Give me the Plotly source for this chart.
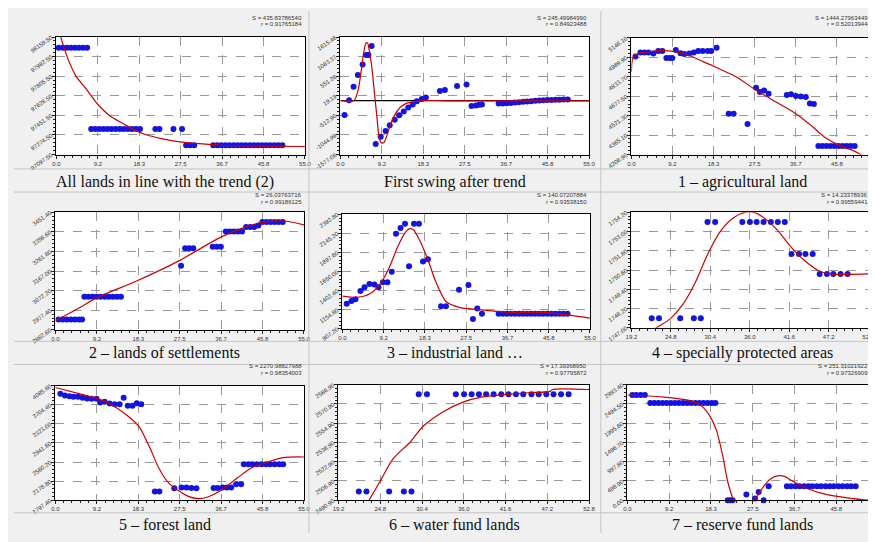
import plotly.graph_objects as go

W, H = 876, 542

# ---------------- tick labels ----------------
x_ticks_a = [0.0, 9.1667, 18.3333, 27.5, 36.6667, 45.8333, 55.0]
x_labels_a = ["0.0", "9.2", "18.3", "27.5", "36.7", "45.8", "55.0"]
x_ticks_b = [19.2, 24.8, 30.4, 36.0, 41.6, 47.2, 52.8]
x_labels_b = ["19.2", "24.8", "30.4", "36.0", "41.6", "47.2", "52.8"]

p1_yticks = [97097.5, 97274.5, 97451.5, 97628.5, 97805.5, 97982.5, 98159.5]
p2_yticks = [-1577.08, -1044.99, -512.90, 19.19, 551.28, 1083.37, 1615.46]
p3_yticks = [4208.9, 4365.1, 4521.3, 4677.5, 4833.7, 4989.9, 5146.1]
p4_yticks = [2882.6, 2977.4, 3072.2, 3167.0, 3261.8, 3356.6, 3451.4]
p5_yticks = [907.2, 1154.8, 1402.4, 1650.0, 1897.6, 2145.2, 2392.8]
p6_yticks = [1747.0, 1748.2, 1749.4, 1750.6, 1751.8, 1753.0, 1754.2]
p7_yticks = [1797.4, 2178.8, 2560.2, 2941.6, 3323.0, 3704.4, 4085.8]
p8_yticks = [2490.9, 2506.9, 2522.9, 2538.9, 2554.9, 2570.9, 2586.9]
p9_yticks = [0.0, 498.9, 997.8, 1496.7, 1995.6, 2494.5, 2993.4]

# ---------------- captions / stats ----------------
captions = ["All lands in line with the trend (2)", "First swing after trend", "1 \u2013 agricultural land",
            "2 \u2013 lands of settlements", "3 \u2013 industrial land \u2026", "4 \u2013 specially protected areas",
            "5 \u2013 forest land", "6 \u2013 water fund lands", "7 \u2013 reserve fund lands"]
s_values = ["435.83786540", "245.49984990", "1444.27963449", "26.03763716", "140.07207884",
            "14.23378936", "2270.98827988", "17.39368950", "251.31021922"]
r_values = ["0.91765184", "0.84923488", "0.52013944", "0.99186125", "0.93538150",
            "0.99559441", "0.98354003", "0.97795872", "0.97326909"]

# ---------------- panel 1 ----------------
p1_x = [0.5, 1.4, 2.3, 3.2, 4.1, 5.0, 5.9, 6.8,
        7.7, 8.6, 9.5, 10.4, 11.3, 12.2, 13.1, 14.0, 14.9, 15.8, 16.7, 17.6, 18.5,
        21.9, 22.8, 25.9, 27.8,
        28.7, 29.6, 30.5,
        34.7, 35.6, 36.5, 37.4, 38.3, 39.2, 40.1, 41.0, 41.9, 42.8, 43.7, 44.6, 45.5, 46.4, 47.3, 48.2, 49.1, 50.0]
p1_y = [98063, 98063, 98063, 98063, 98063, 98063, 98063, 98063,
        97327, 97327, 97327, 97327, 97327, 97327, 97327, 97327, 97327, 97327, 97327, 97327, 97327,
        97327, 97327, 97327, 97327,
        97181, 97181, 97181,
        97181, 97181, 97181, 97181, 97181, 97181, 97181, 97181, 97181, 97181, 97181, 97181, 97181, 97181, 97181, 97181, 97181, 97181]
p1_tx = [0.3, 0.95, 2.55, 4.4, 6.5, 9.1, 11.8, 14.6, 17.2, 19.7, 23.0, 27.3, 31.5, 36.4, 45.0, 55.0]
p1_ty = [98240, 98160, 97962, 97801, 97695, 97554, 97448, 97380, 97320, 97278, 97243, 97211, 97195, 97181, 97173, 97170]

# ---------------- panel 2 ----------------
p2_x = [0.9, 1.9, 2.9, 3.85, 4.9, 5.7, 6.2, 6.9, 7.8, 8.9, 10.0, 10.9, 12.0, 13.0, 14.0, 15.0, 16.0, 16.9,
        18.0, 18.9, 22.0, 23.1, 25.8, 27.9, 29.0, 30.0, 30.7, 31.3,
        35.0, 35.9, 36.8, 37.7, 38.6, 39.5, 40.4, 41.3, 42.2, 43.1, 44.0, 44.9, 45.8, 46.7, 47.6, 48.5, 49.4, 50.3]
p2_y = [-504, -103, 263, 586, 865, 1127, 1127, 1371, -1289, -1097, -940, -783, -635, -513, -408, -303, -216, -129,
        -68, -25, 150, 176, 281, 325, -260, -243, -225, -216,
        -190, -190, -183, -175, -165, -155, -147, -140, -130, -120, -112, -103, -95, -94, -90, -88, -86, -86]
p2_tx = [0.0, 2.98, 3.85, 4.57, 5.15, 5.66, 6.02, 6.39, 6.97, 7.47, 8.06, 8.56, 9.07, 9.65, 10.7, 11.8, 13.3,
         14.7, 16.2, 18.4, 25.0, 55.0]
p2_ty = [-112, -112, 150, 673, 1196, 1458, 1441, 1240, 760, 150, -548, -1115, -1263, -1245, -897, -548, -286,
         -181, -147, -112, -118, -120]
p2_base = -112

# ---------------- panel 3 ----------------
p3_x = [0.9, 2.0, 2.9, 3.8, 4.9, 6.0, 6.9, 7.8, 8.55, 9.1, 9.9, 10.96, 11.8, 12.9, 13.9, 14.9, 15.9, 17.0, 17.8,
        19.0, 21.7, 22.8, 25.9, 27.8, 28.65, 29.6, 30.6, 34.65, 35.6, 36.7, 37.8, 38.9, 39.8, 40.7,
        41.7, 42.6, 43.5, 44.4, 45.3, 46.2, 47.1, 48.0, 48.9, 49.8]
p3_y = [4998, 5030, 5030, 5030, 5022, 5042, 5042, 4986, 4986, 4986, 5050, 5024, 5017, 5022, 5030, 5042, 5042, 5042, 5042,
        5068, 4537, 4537, 4455, 4745, 4711, 4724, 4698, 4688, 4693, 4680, 4675, 4672, 4620, 4615,
        4278, 4278, 4278, 4278, 4278, 4278, 4278, 4278, 4278, 4278]
p3_tx = [0.0, 0.29, 1.24, 3.8, 6.73, 9.65, 12.57, 16.23, 18.27, 21.35, 23.54, 27.56, 31.58, 36.7, 40.35, 43.27,
         46.56, 49.85, 52.78]
p3_ty = [4874, 4978, 5017, 5035, 5045, 5037, 5011, 4952, 4921, 4869, 4830, 4732, 4646, 4537, 4434, 4343,
         4278, 4234, 4175]

# ---------------- panel 4 ----------------
p4_x = [0.7, 1.6, 2.5, 3.4, 4.3, 5.2, 5.9,
        6.4, 7.3, 8.2, 9.1, 10.0, 10.9, 11.8, 12.7, 13.6, 14.5,
        27.8, 28.7, 29.6, 30.5, 34.8, 35.7, 36.6,
        37.7, 38.6, 39.5, 40.4, 41.3, 42.2, 43.1, 44.0, 44.9,
        45.8, 46.7, 47.6, 48.5, 49.4, 50.3]
p4_y = [2933, 2933, 2933, 2933, 2933, 2933, 2933,
        3043, 3043, 3043, 3043, 3043, 3043, 3043, 3043, 3043, 3043,
        3192, 3277, 3277, 3277, 3284, 3284, 3284,
        3359, 3359, 3359, 3359, 3359, 3380, 3380, 3380, 3388,
        3404, 3404, 3404, 3404, 3404, 3404]
p4_tx = [0.0, 5.4, 9.1, 18.1, 27.2, 36.6, 41.7, 46.1, 51.2, 55.0]
p4_ty = [2926, 2990, 3037, 3120, 3215, 3331, 3377, 3404, 3408, 3390]

# ---------------- panel 5 ----------------
p5_x = [0.95, 2.0, 2.9, 4.0, 4.9, 6.0, 7.1, 8.0, 9.0, 10.0, 10.96, 11.9, 12.9, 13.9, 14.8, 15.9, 17.0, 17.9, 19.0,
        21.9, 23.0, 25.9, 28.0, 29.0, 29.95, 31.0,
        34.7, 35.6, 36.5, 37.4, 38.3, 39.2, 40.1, 41.0, 41.9, 42.8, 43.7, 44.6, 45.5, 46.4, 47.3, 48.2, 49.1, 50.0]
p5_y = [1232, 1269, 1290, 1398, 1447, 1489, 1481, 1447, 1510, 1510, 1646, 2140, 2215, 2268, 1717, 2268, 2268, 1779, 1808,
        1199, 1199, 1414, 1476, 1033, 1169, 1103,
        1103, 1103, 1103, 1103, 1103, 1103, 1103, 1103, 1103, 1103, 1103, 1103, 1103, 1103, 1103, 1103, 1103, 1103]
p5_tx = [0.0, 3.3, 6.2, 8.4, 10.2, 12.4, 13.9, 14.8, 15.7, 17.2, 19.0, 20.8, 23.0, 25.9, 30.3, 36.9, 45.6, 55.0]
p5_ty = [1331, 1315, 1364, 1489, 1675, 1986, 2152, 2202, 2194, 2049, 1800, 1510, 1261, 1186, 1157, 1124, 1116, 1045]

# ---------------- panel 6 ----------------
p6_x = [22.08, 23.11, 26.13, 28.06, 29.05, 30.0, 31.08, 34.94, 36.02, 36.97, 37.96, 38.99, 39.98, 40.97,
        41.92, 42.99, 43.9, 44.93, 45.92, 46.95, 47.85, 48.89, 49.88]
p6_y = [1747.6, 1747.6, 1747.6, 1747.6, 1747.6, 1753.6, 1753.6, 1753.6, 1753.6, 1753.6, 1753.6, 1753.6, 1753.6, 1753.6,
        1751.6, 1751.6, 1751.6, 1751.6, 1750.36, 1750.36, 1750.36, 1750.36, 1750.36]
p6_tx = [22.44, 23.1, 24.7, 26.5, 28.3, 30.1, 31.9, 33.7, 35.5, 36.4, 37.7, 39.98, 41.8, 43.6, 45.8, 47.6, 52.9]
p6_ty = [1746.92, 1747.1, 1747.56, 1748.46, 1749.86, 1751.66, 1753.06, 1753.86, 1754.22, 1754.22, 1753.96,
         1753.06, 1752.06, 1751.26, 1750.56, 1750.36, 1750.36]

# ---------------- panel 7 ----------------
p7_x = [1.1, 2.1, 3.1, 4.0, 5.0, 6.0, 7.0, 8.0, 9.1, 9.9, 10.9, 12.0, 13.1, 14.2, 15.1, 16.0, 17.05, 18.0, 19.0,
        22.0, 23.0, 26.3, 27.9, 29.0, 30.1, 31.2, 35.0, 35.9, 37.0, 37.9, 38.9, 40.0, 41.1,
        41.7, 42.7, 43.6, 44.6, 45.6, 46.6, 47.5, 48.5, 49.5, 50.4]
p7_y = [3926, 3888, 3875, 3862, 3862, 3843, 3830, 3824, 3824, 3747, 3766, 3728, 3715, 3715, 3843, 3683, 3683, 3734, 3715,
        1971, 1971, 2035, 2054, 2054, 2041, 2035, 2041, 2041, 2054, 2054, 2054, 2118, 2118,
        2514, 2514, 2514, 2514, 2514, 2514, 2514, 2514, 2514, 2514]
p7_tx = [0.0, 5.4, 9.8, 13.4, 16.3, 18.5, 20.7, 22.9, 25.0, 27.2, 29.4, 31.6, 33.7, 36.6, 40.3, 43.2, 46.1, 50.4, 55.0]
p7_ty = [4048, 3920, 3811, 3651, 3460, 3268, 2885, 2438, 2150, 1990, 1875, 1831, 1862, 1990, 2246, 2438, 2533, 2648, 2661]

# ---------------- panel 8 ----------------
p8_x = [21.93, 22.95, 25.99, 27.97, 28.99, 29.96, 31.06, 34.94, 36.04, 37.06, 38.03, 39.0, 40.01, 41.03, 42.0,
        43.0, 43.98, 45.08, 46.05, 47.07, 48.04, 49.05, 50.06]
p8_y = [2498.1, 2498.1, 2498.1, 2498.1, 2498.1, 2578.9, 2578.9, 2578.9, 2578.9, 2578.9, 2578.9, 2578.9, 2578.9,
        2578.9, 2578.9, 2578.9, 2578.9, 2578.9, 2578.9, 2578.9, 2578.9, 2578.9, 2578.9]
p8_tx = [23.04, 24.8, 26.56, 28.77, 30.53, 33.2, 35.8, 38.5, 41.1, 44.6, 47.6, 47.9, 52.8]
p8_ty = [2488.2, 2506.9, 2525.6, 2538.9, 2552.2, 2564.2, 2572.2, 2576.8, 2578.4, 2580.2, 2581.3, 2582.9, 2582.9]

# ---------------- panel 9 ----------------
p9_x = [1.08, 1.95, 2.88, 3.82,
        5.0, 5.9, 6.8, 7.7, 8.6, 9.5, 10.4, 11.3, 12.2, 13.1, 14.0, 14.9, 15.8, 16.7, 17.6, 18.5, 19.3,
        22.0, 22.6, 23.1, 26.1, 28.0, 28.8, 29.9, 31.0,
        35.0, 35.9, 36.9, 37.8, 38.8, 39.7, 40.6, 41.6, 42.5, 43.5, 44.4, 45.3, 46.3, 47.2, 48.2, 49.1, 50.1]
p9_y = [2726, 2726, 2726, 2726,
        2517, 2517, 2517, 2517, 2517, 2517, 2517, 2517, 2517, 2517, 2517, 2517, 2517, 2517, 2517, 2517, 2517,
        0, 0, 0, 152, 43, 211, 0, 361,
        361, 361, 361, 361, 361, 361, 361, 361, 361, 361, 361, 361, 361, 361, 361, 361, 361]
p9_tx = [0.0, 7.6, 13.3, 16.2, 18.0, 19.5, 20.9, 22.0, 23.1, 23.4, 27.6, 28.5, 29.9, 31.4, 33.2, 34.6, 36.4,
         40.0, 43.6, 47.9, 53.0, 55.0]
p9_ty = [2726, 2676, 2592, 2450, 2200, 1823, 1155, 486, 68, 0, 0, 110, 361, 553, 637, 612, 486,
         277, 152, 69, 2, 0]

# ---------------- layout boxes (pixels: left, top, right, bottom) ----------------
boxes = [(43, 27, 295, 149), (331, 27, 583, 149), (626, 28, 876, 149),
         (42, 209, 294, 331), (333, 211, 584, 330), (626, 209, 866, 329),
         (42, 389, 294, 508), (329, 388, 583, 508), (622, 388, 876, 508)]

panels = [
    (p1_x, p1_y, p1_tx, p1_ty, p1_yticks, x_ticks_a, x_labels_a),
    (p2_x, p2_y, p2_tx, p2_ty, p2_yticks, x_ticks_a, x_labels_a),
    (p3_x, p3_y, p3_tx, p3_ty, p3_yticks, x_ticks_a, x_labels_a),
    (p4_x, p4_y, p4_tx, p4_ty, p4_yticks, x_ticks_a, x_labels_a),
    (p5_x, p5_y, p5_tx, p5_ty, p5_yticks, x_ticks_a, x_labels_a),
    (p6_x, p6_y, p6_tx, p6_ty, p6_yticks, x_ticks_b, x_labels_b),
    (p7_x, p7_y, p7_tx, p7_ty, p7_yticks, x_ticks_a, x_labels_a),
    (p8_x, p8_y, p8_tx, p8_ty, p8_yticks, x_ticks_b, x_labels_b),
    (p9_x, p9_y, p9_tx, p9_ty, p9_yticks, x_ticks_a, x_labels_a),
]

fig = go.Figure()
layout = dict(width=W, height=H, margin=dict(l=0, r=0, t=0, b=0),
              paper_bgcolor="#f0f0f0", plot_bgcolor="white", showlegend=False)

tick_font = dict(family="Liberation Sans", size=6, color="#333333")
shapes = []
annotations = []

for i, (px_, py_, tx_, ty_, yt, xt, xl) in enumerate(panels):
    n = i + 1
    xa = "x" if n == 1 else f"x{n}"
    ya = "y" if n == 1 else f"y{n}"
    l, t, r, b = boxes[i]
    ystep = yt[1] - yt[0]
    xstep = xt[1] - xt[0]
    layout["xaxis" if n == 1 else f"xaxis{n}"] = dict(
        domain=[l / W, r / W], anchor=ya, range=[xt[0], xt[-1]],
        tickmode="array", tickvals=xt, ticktext=xl, tickfont=tick_font,
        ticks="outside", ticklen=3, tickcolor="#222",
        showline=True, mirror=True, linecolor="black", linewidth=1,
        showgrid=True, gridcolor="#9a9a9a", griddash="dash", gridwidth=1,
        zeroline=False,
        minor=dict(tick0=xt[0], dtick=xstep / 5, ticks="outside", ticklen=2, tickcolor="#222", showgrid=False))
    layout["yaxis" if n == 1 else f"yaxis{n}"] = dict(
        domain=[1 - b / H, 1 - t / H], anchor=xa, range=[yt[0], yt[-1]],
        tickmode="array", tickvals=yt, ticktext=[f"{v:.2f}" for v in yt], tickfont=tick_font,
        tickangle=-35, ticks="outside", ticklen=3, tickcolor="#222",
        showline=True, mirror=True, linecolor="black", linewidth=1,
        showgrid=True, gridcolor="#9a9a9a", griddash="dash", gridwidth=1,
        zeroline=False,
        minor=dict(tick0=yt[0], dtick=ystep / 5, ticks="outside", ticklen=2, tickcolor="#222", showgrid=False))

    if n == 2:
        fig.add_trace(go.Scatter(x=[xt[0], xt[-1]], y=[p2_base, p2_base], mode="lines",
                                 line=dict(color="black", width=1.2), xaxis=xa, yaxis=ya, hoverinfo="skip"))
    fig.add_trace(go.Scatter(x=px_, y=py_, mode="markers", cliponaxis=False,
                             marker=dict(color="#1414e0", size=6, symbol="circle", line=dict(width=0)),
                             xaxis=xa, yaxis=ya))
    fig.add_trace(go.Scatter(x=tx_, y=ty_, mode="lines", line=dict(color="#cc0000", width=1.2, shape="spline",
                                                                      smoothing=0.8),
                             xaxis=xa, yaxis=ya, hoverinfo="skip"))

# captions and stats
col_centers = [153, 447, 739]
cap_rows = [178, 355, 533]
stat_right = [294, 583, 868]
stat_rows = [(7, 14), (191, 198), (369, 376)]
for i in range(9):
    row, col = divmod(i, 3)
    annotations.append(dict(x=col_centers[col] / W, y=1 - cap_rows[row] / H, xref="paper", yref="paper",
                            text=captions[i], showarrow=False, xanchor="center", yanchor="middle",
                            font=dict(family="Liberation Serif", size=16, color="#111")))
    annotations.append(dict(x=stat_right[col] / W, y=1 - stat_rows[row][0] / H, xref="paper", yref="paper",
                            text="S = " + s_values[i], showarrow=False, xanchor="right", yanchor="middle",
                            font=dict(family="Liberation Sans", size=6, color="#333")))
    annotations.append(dict(x=stat_right[col] / W, y=1 - stat_rows[row][1] / H, xref="paper", yref="paper",
                            text="r = " + r_values[i], showarrow=False, xanchor="right", yanchor="middle",
                            font=dict(family="Liberation Sans", size=6, color="#333")))

# separators
sep = "#c4c4c4"
for xv in [299, 595]:
    shapes.append(dict(type="line", xref="paper", yref="paper", x0=xv / W, x1=xv / W, y0=0, y1=1,
                       line=dict(color=sep, width=1)))
for yv in [164, 188, 343, 367, 521]:
    shapes.append(dict(type="line", xref="paper", yref="paper", x0=0, x1=1, y0=1 - yv / H, y1=1 - yv / H,
                       line=dict(color=sep, width=1)))

layout["shapes"] = shapes
layout["annotations"] = annotations
fig.update_layout(**layout)
fig.write_html("out.html")
